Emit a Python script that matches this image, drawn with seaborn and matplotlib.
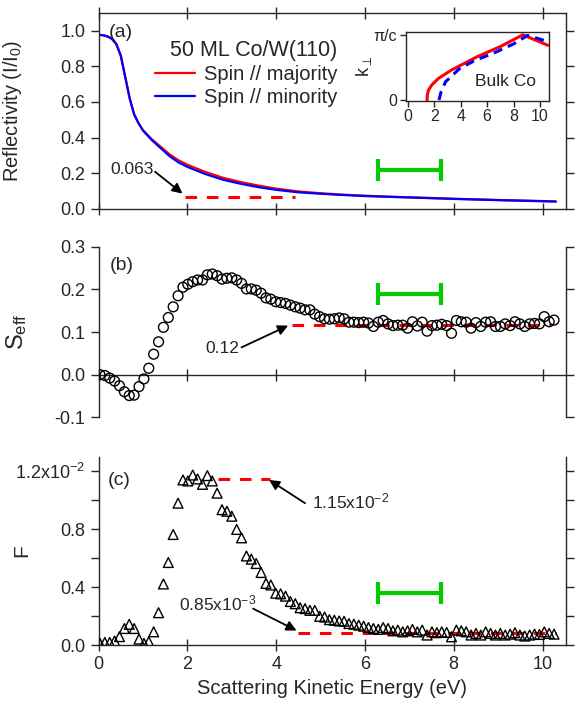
import numpy as np
import pandas as pd
import matplotlib
matplotlib.use("Agg")
import matplotlib.pyplot as plt
import seaborn as sns

# 1. Dados
# (a) refletividade
energia_a = [0.0, 0.1, 0.2, 0.3, 0.4, 0.5, 0.6, 0.7, 0.8, 0.9, 1.0, 1.2, 1.4, 1.6, 1.8, 2.0,
             2.4, 2.8, 3.2, 3.6, 4.0, 4.5, 5.0, 5.5, 6.0, 6.5, 7.0, 8.0, 9.0, 10.0, 10.3]
refl_maj = [0.977, 0.975, 0.968, 0.955, 0.925, 0.86, 0.74, 0.62, 0.53, 0.48, 0.44, 0.39,
            0.348, 0.305, 0.272, 0.247, 0.207, 0.174, 0.150, 0.130, 0.113, 0.097, 0.087,
            0.079, 0.073, 0.068, 0.064, 0.056, 0.049, 0.043, 0.041]
refl_min = [0.977, 0.975, 0.968, 0.955, 0.925, 0.86, 0.74, 0.62, 0.53, 0.48, 0.44, 0.385,
            0.34, 0.295, 0.26, 0.235, 0.195, 0.163, 0.14, 0.121, 0.106, 0.092, 0.084,
            0.077, 0.071, 0.067, 0.063, 0.055, 0.048, 0.042, 0.040]

# inset: k perpendicular (unidades de pi/c)
k_maj_e = [1.45, 1.47, 1.55, 1.8, 2.3, 3.3, 5.2, 7.0, 8.7, 10.6]
k_maj = [0.0, 0.08, 0.15, 0.23, 0.33, 0.46, 0.66, 0.82, 1.0, 0.84]
k_min_e = [2.35, 2.5, 2.85, 3.9, 5.0, 6.5, 8.0, 9.05, 10.4]
k_min = [0.0, 0.12, 0.28, 0.48, 0.60, 0.72, 0.86, 0.99, 0.91]

# (b) e (c) - energias medidas
energia = [0.03, 0.14, 0.25, 0.36, 0.47, 0.58, 0.69, 0.80, 0.91, 1.02,
           1.13, 1.24, 1.35, 1.46, 1.57, 1.68, 1.79, 1.90, 2.01, 2.12,
           2.23, 2.34, 2.45, 2.56, 2.67, 2.78, 2.89, 3.00, 3.11, 3.22,
           3.33, 3.44, 3.55, 3.66, 3.77, 3.88, 3.99, 4.10, 4.21, 4.32,
           4.43, 4.54, 4.65, 4.76, 4.87, 4.98, 5.09, 5.20, 5.31, 5.42,
           5.53, 5.64, 5.75, 5.86, 5.97, 6.08, 6.19, 6.30, 6.41, 6.52,
           6.63, 6.74, 6.85, 6.96, 7.07, 7.18, 7.29, 7.40, 7.51, 7.62,
           7.73, 7.84, 7.95, 8.06, 8.17, 8.28, 8.39, 8.50, 8.61, 8.72,
           8.83, 8.94, 9.05, 9.16, 9.27, 9.38, 9.49, 9.60, 9.71, 9.82,
           9.93, 10.04, 10.15, 10.26]
s_eff = [0.000, -0.002, -0.008, -0.015, -0.026, -0.040, -0.049, -0.048, -0.028, -0.010,
         0.015, 0.048, 0.077, 0.111, 0.134, 0.159, 0.185, 0.205, 0.212, 0.218,
         0.222, 0.222, 0.234, 0.236, 0.232, 0.224, 0.226, 0.227, 0.222, 0.214,
         0.201, 0.201, 0.198, 0.191, 0.180, 0.177, 0.171, 0.169, 0.167, 0.163,
         0.159, 0.156, 0.152, 0.152, 0.142, 0.136, 0.131, 0.130, 0.131, 0.133,
         0.131, 0.123, 0.123, 0.122, 0.123, 0.121, 0.113, 0.123, 0.127, 0.119,
         0.115, 0.116, 0.116, 0.109, 0.124, 0.114, 0.123, 0.102, 0.115, 0.116,
         0.118, 0.115, 0.097, 0.127, 0.124, 0.123, 0.109, 0.122, 0.113, 0.123,
         0.124, 0.113, 0.113, 0.119, 0.115, 0.124, 0.119, 0.113, 0.119, 0.120,
         0.119, 0.136, 0.124, 0.128]
f_fom = [0.00014, 0.0002, 0.0002, 0.0003, 0.0006, 0.00116, 0.00145, 0.00116, 0.00043, 0.00014,
         0.00025, 0.00093, 0.00225, 0.00423, 0.00571, 0.00764, 0.0098, 0.0114, 0.01133, 0.01174,
         0.01147, 0.0111, 0.0117, 0.01133, 0.01049, 0.00935, 0.00924, 0.0089, 0.00799, 0.00741,
         0.00616, 0.00594, 0.00564, 0.00502, 0.00427, 0.00416, 0.00359, 0.00355, 0.00339, 0.00302,
         0.00287, 0.00259, 0.00253, 0.00241, 0.00241, 0.0020, 0.00195, 0.00177, 0.00173, 0.00168,
         0.00166, 0.0015, 0.00146, 0.00139, 0.00132, 0.00123, 0.00116, 0.0011, 0.00123, 0.00116,
         0.0010, 0.00105, 0.00093, 0.0010, 0.0011, 0.00093, 0.00105, 0.00071, 0.00093, 0.00087,
         0.00093, 0.00089, 0.00059, 0.00105, 0.0010, 0.00093, 0.00071, 0.00082, 0.00071, 0.00093,
         0.00082, 0.00071, 0.00082, 0.00071, 0.00077, 0.00087, 0.00071, 0.00064, 0.00071, 0.00077,
         0.00075, 0.00093, 0.00082, 0.00077]

# linhas de referência (valor, inicio, fim)
ref_a = (0.063, 1.95, 4.42)
ref_b = (0.117, 4.35, 10.2)
ref_c_top = (0.0115, 2.68, 3.86)
ref_c_low = (0.00085, 4.5, 10.3)

# janela de energia (barra verde)
janela = (6.3, 7.71)

# 2. Estilo
sns.set_style("ticks")
plt.rcParams["font.family"] = ["Liberation Sans", "DejaVu Sans"]
plt.rcParams["mathtext.fontset"] = "custom"
plt.rcParams["mathtext.rm"] = "Liberation Sans"
plt.rcParams["mathtext.it"] = "Liberation Sans:italic"
plt.rcParams["axes.linewidth"] = 1.0

VERDE = "#00cc00"
FS_TICK = 13
FS_LAB = 14.5

fig = plt.figure(figsize=(5.76, 7.13), dpi=100)
x0, w = 0.1712, 0.8115
ax_a = fig.add_axes([x0, 0.7073, w, 0.2745])
ax_b = fig.add_axes([x0, 0.4147, w, 0.2393])
ax_c = fig.add_axes([x0, 0.0949, w, 0.2645])

for ax in (ax_a, ax_b, ax_c):
    ax.set_xlim(0, 10.53)
    ax.set_xticks([0, 2, 4, 6, 8, 10])
    ax.tick_params(axis="y", direction="out", left=True, right=True, labelright=False,
                   length=6, width=1, labelsize=FS_TICK)
    ax.tick_params(axis="x", direction="inout", length=9, width=1, labelsize=FS_TICK)
    ax.spines["right"].set_visible(True)


def seta(ax, inicio, fim):
    ax.annotate("", xy=fim, xytext=inicio,
                arrowprops=dict(arrowstyle="-|>", color="black", lw=1.3,
                                mutation_scale=15, shrinkA=0, shrinkB=0))


def linha_ref(ax, ref):
    ax.plot([ref[1], ref[2]], [ref[0], ref[0]], color="red", lw=2.2,
            linestyle=(0, (3.8, 3.2)))


def barra(ax, y):
    centro = (janela[0] + janela[1]) / 2
    ax.errorbar(centro, y, xerr=(janela[1] - janela[0]) / 2, fmt="none",
                ecolor=VERDE, elinewidth=3, capsize=8, capthick=3)


# 3. Painel (a)
df_a = pd.DataFrame({
    "E": energia_a * 2,
    "R": refl_maj + refl_min,
    "spin": ["Spin // majority"] * len(energia_a) + ["Spin // minority"] * len(energia_a),
})
sns.lineplot(data=df_a, x="E", y="R", hue="spin",
             palette={"Spin // majority": "red", "Spin // minority": "blue"},
             lw=1.6, ax=ax_a)
ax_a.set_ylim(0, 1.1)
ax_a.set_yticks([0, 0.2, 0.4, 0.6, 0.8, 1.0])
ax_a.set_yticklabels(["0.0", "0.2", "0.4", "0.6", "0.8", "1.0"])
ax_a.tick_params(axis="x", top=True, labelbottom=False)
ax_a.set_xlabel("")
ax_a.set_ylabel("Reflectivity (I/I$_0$)", fontsize=FS_LAB)
ax_a.yaxis.set_label_coords(-0.16, 0.5)
sns.move_legend(ax_a, "upper left", bbox_to_anchor=(0.12, 0.86), frameon=False,
                title="50 ML Co/W(110)", fontsize=14.5, title_fontsize=15.5,
                handlelength=2.0, handletextpad=0.45, labelspacing=0.2,
                borderpad=0, borderaxespad=0, alignment="right")
ax_a.text(0.5, 0.99, "(a)", fontsize=14, ha="center", va="center")
linha_ref(ax_a, ref_a)
ax_a.text(0.26, 0.222, "0.063", fontsize=12.5, va="center")
seta(ax_a, (1.27, 0.208), (1.89, 0.085))
barra(ax_a, 0.218)

# inset
axins = ax_a.inset_axes([0.657, 0.552, 0.307, 0.353])
sns.lineplot(x=k_maj_e, y=k_maj, color="red", lw=2.2, ax=axins)
sns.lineplot(x=k_min_e, y=k_min, color="blue", lw=2.2, linestyle=(0, (3, 2)), ax=axins)
axins.set_xlim(-0.17, 10.7)
axins.set_ylim(-0.01, 1.05)
axins.set_xticks([0, 2, 4, 6, 8, 10])
axins.set_yticks([0, 1])
axins.set_yticklabels(["0", "π/c"])
axins.tick_params(direction="out", length=4, width=1, labelsize=11.5, pad=2)
axins.set_ylabel("k$_{\\perp}$", fontsize=13, labelpad=0)
axins.text(5.1, 0.28, "Bulk Co", fontsize=12.5, va="center")

# 4. Painel (b)
sns.scatterplot(x=energia, y=s_eff, marker="o", s=50, facecolor="none",
                edgecolor="black", linewidth=1, ax=ax_b, zorder=3)
ax_b.set_ylim(-0.1, 0.3)
ax_b.set_yticks([-0.1, 0.0, 0.1, 0.2, 0.3])
ax_b.set_yticklabels(["-0.1", "0.0", "0.1", "0.2", "0.3"])
ax_b.spines["top"].set_visible(False)
ax_b.spines["bottom"].set_position(("data", 0))
ax_b.tick_params(axis="x", labelbottom=False)
ax_b.set_ylabel("S$_{\\mathrm{eff}}$", fontsize=17)
ax_b.yaxis.set_label_coords(-0.148, 0.5)
ax_b.text(0.52, 0.257, "(b)", fontsize=14, ha="center", va="center")
linha_ref(ax_b, ref_b)
ax_b.text(2.4, 0.062, "0.12", fontsize=12.5, va="center")
seta(ax_b, (3.22, 0.064), (4.27, 0.115))
barra(ax_b, 0.189)

# 5. Painel (c)
sns.scatterplot(x=energia, y=f_fom, marker="^", s=50, facecolor="none",
                edgecolor="black", linewidth=1, ax=ax_c, zorder=3)
ax_c.set_ylim(0, 0.013)
ax_c.set_yticks([0, 0.002, 0.004, 0.006, 0.008, 0.010, 0.012])
ax_c.set_yticklabels(["0.0", "", "0.4", "", "0.8", "", "1.2x10$^{-2}$"])
ax_c.spines["top"].set_visible(False)
ax_c.set_ylabel("F", fontsize=15)
ax_c.yaxis.set_label_coords(-0.145, 0.5)
ax_c.set_xlabel("Scattering Kinetic Energy (eV)", fontsize=FS_LAB)
ax_c.text(0.47, 0.01133, "(c)", fontsize=14, ha="center", va="center")
linha_ref(ax_c, ref_c_top)
linha_ref(ax_c, ref_c_low)
ax_c.text(4.8, 0.0099, "1.15x10$^{-2}$", fontsize=12.5, va="center")
seta(ax_c, (4.65, 0.0098), (3.84, 0.0114))
ax_c.text(1.82, 0.00287, "0.85x10$^{-3}$", fontsize=12.5, va="center")
seta(ax_c, (3.48, 0.00253), (4.46, 0.00102))
barra(ax_c, 0.00359)

fig.savefig("out.png", dpi=100)
plt.close(fig)
